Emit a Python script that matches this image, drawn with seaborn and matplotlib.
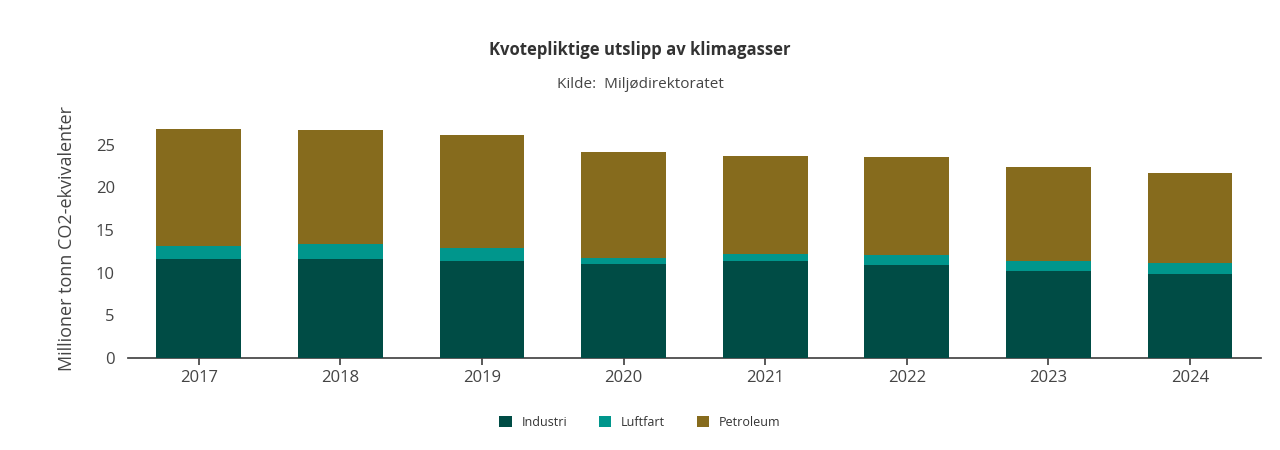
import matplotlib
matplotlib.use("Agg")
import matplotlib.pyplot as plt
import seaborn as sns
import pandas as pd
import numpy as np

years = ["2017", "2018", "2019", "2020", "2021", "2022", "2023", "2024"]
industri = [11.6, 11.6, 11.3, 11.0, 11.3, 10.9, 10.2, 9.8]
luftfart = [1.55, 1.7, 1.6, 0.7, 0.9, 1.2, 1.2, 1.3]
petroleum = [13.65, 13.4, 13.2, 12.5, 11.5, 11.5, 11.0, 10.6]

sns.set_theme(style="white")
plt.rcParams['font.family'] = ['Open Sans', 'DejaVu Sans']

fig = plt.figure(figsize=(12.8, 4.5), dpi=100)
ax = fig.add_axes([0.1, 0.205, 0.885, 0.53])

df = pd.DataFrame({"year": years, "Industri": industri, "Luftfart": luftfart, "Petroleum": petroleum})
colors = {"Industri": "#004c45", "Luftfart": "#00968c", "Petroleum": "#866b1d"}
bottom = np.zeros(len(years))
for s in ["Industri", "Luftfart", "Petroleum"]:
    sns.barplot(x=df["year"], y=df[s] + bottom, ax=ax, color=colors[s], width=0.6,
                saturation=1, zorder=-list(colors).index(s), label=s)
    bottom += df[s].values
# redraw order: barplot draws cumulative; ensure lower series on top
for i, c in enumerate(ax.containers):
    for p in c:
        p.set_zorder(3 - i)
        p.set_edgecolor("none")

ax.set_ylim(0, 28)
ax.set_xlim(-0.5, 7.5)
ax.set_yticks([0, 5, 10, 15, 20, 25])
ax.set_xlabel("")
ax.set_ylabel("Millioner tonn CO2-ekvivalenter", fontsize=13, color="#444", labelpad=14)
for sp in ["top", "right", "left"]:
    ax.spines[sp].set_visible(False)
ax.spines["bottom"].set_color("#444")
ax.tick_params(axis="both", labelsize=12, colors="#444")
ax.tick_params(axis="x", bottom=True, length=5, color="#444")
ax.tick_params(axis="y", left=False)

fig.text(0.5, 0.878, "Kvotepliktige utslipp av klimagasser", ha="center", fontsize=12, fontweight="bold", color="#333")
fig.text(0.5, 0.805, "Kilde:  Miljødirektoratet", ha="center", fontsize=11, color="#444")

handles, labels = ax.get_legend_handles_labels()
ax.legend(handles, labels, loc="center", bbox_to_anchor=(0.5, 0.0), bbox_transform=fig.transFigure,
          ncol=3, frameon=False, fontsize=9, handlelength=1, handleheight=1, columnspacing=2.5,
          borderaxespad=0)
leg = ax.get_legend()
leg.set_bbox_to_anchor((0.5, 0.062), transform=fig.transFigure)
for t in leg.get_texts():
    t.set_color("#333")

fig.savefig("out.png", dpi=100)
